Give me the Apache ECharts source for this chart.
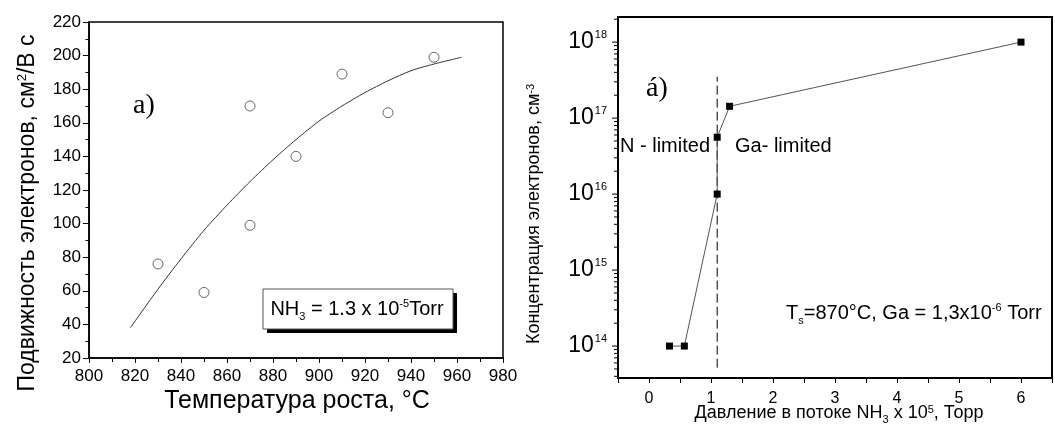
<!DOCTYPE html>
<html>
<head>
<meta charset="utf-8">
<script src="https://cdn.jsdelivr.net/npm/echarts@6/dist/echarts.min.js"></script>
<style>
  html, body { margin: 0; padding: 0; background: #fff; }
  #c { width: 1055px; height: 430px; }
</style>
</head>
<body>
<div id="c"></div>
<script>
// (a) Electron mobility vs growth temperature, NH3 = 1.3e-5 Torr
const growthTemp = [830, 850, 870, 870, 890, 910, 930, 950];
const mobility   = [76, 59, 170, 99, 140, 189, 166, 199];
// trend curve through the mobility data
const trendTemp     = [818, 830, 840, 850, 860, 870, 880, 890, 900, 910, 920, 930, 940, 950, 962];
const trendMobility = [38, 61, 79, 96, 111, 125, 138, 150, 161, 170, 178, 185, 191, 195, 199];

// (b) Electron concentration vs NH3 flux pressure (x 1e-5 Torr)
const nh3Pressure   = [0.33, 0.57, 1.1, 1.1, 1.3, 6.0];
const concentration = [1e14, 1e14, 1e16, 5.6e16, 1.43e17, 1e18];
// N-limited / Ga-limited boundary
const boundaryPressure = 1.1;
const boundarySpan     = [5.2e13, 3.5e17];

// axis ranges
const tempRange = [800, 980];
const mobRange  = [20, 220];
const pRange    = [-0.5, 6.5];
const concRange = [3.8e13, 2.14e18];
const decades   = [14, 15, 16, 17, 18];

const FONT = '"Liberation Sans", Arial, sans-serif';
const SERIF = '"Liberation Serif", "Times New Roman", serif';

// log-axis tick marks (majors at decades, minors at 2..9 x decade)
const logTicks = [];
for (let e = 13; e <= 18; e++) {
  for (let k = 1; k <= 9; k++) {
    const v = k * Math.pow(10, e);
    if (v >= concRange[0] && v <= concRange[1]) logTicks.push([pRange[0], v, k === 1 ? 6 : 4]);
  }
}

const chart = echarts.init(document.getElementById('c'));

function richStyle(size, subSize) {
  return {
    n:   { fontFamily: FONT, fontSize: size, lineHeight: Math.round(size * 1.35), color: '#000' },
    sub: { fontFamily: FONT, fontSize: subSize, verticalAlign: 'bottom', color: '#000' },
    sup: { fontFamily: FONT, fontSize: subSize, verticalAlign: 'top', padding: [Math.round(size * 0.15), 0, 0, 0], color: '#000' }
  };
}

const option = {
  animation: false,
  backgroundColor: '#fff',
  grid: [
    { left: 89, top: 22, width: 414, height: 336, show: true, borderColor: '#000', borderWidth: 1.5, backgroundColor: 'transparent' },
    { left: 618, top: 17, width: 442, height: 361, show: true, borderColor: '#000', borderWidth: 2, backgroundColor: 'transparent' }
  ],
  xAxis: [
    {
      gridIndex: 0, type: 'value', min: tempRange[0], max: tempRange[1], interval: 20,
      axisLine: { onZero: false, lineStyle: { color: '#000', width: 1.5 } },
      axisTick: { show: true, length: 5, lineStyle: { color: '#000' } },
      minorTick: { show: true, splitNumber: 2, length: 4, lineStyle: { color: '#000' } },
      splitLine: { show: false },
      axisLabel: { color: '#000', fontFamily: FONT, fontSize: 17, margin: 10 }
    },
    {
      gridIndex: 1, type: 'value', min: pRange[0], max: pRange[1], interval: 0.5,
      axisLine: { onZero: false, lineStyle: { color: '#000', width: 1.5 } },
      axisTick: { show: true, length: 5, lineStyle: { color: '#000' } },
      splitLine: { show: false },
      axisLabel: {
        color: '#000', fontFamily: FONT, fontSize: 16, margin: 13,
        formatter: v => (Math.abs(v - Math.round(v)) < 1e-9 ? String(Math.round(v)) : '')
      }
    }
  ],
  yAxis: [
    {
      gridIndex: 0, type: 'value', min: mobRange[0], max: mobRange[1], interval: 20,
      axisLine: { show: true, onZero: false, lineStyle: { color: '#000', width: 1.5 } },
      axisTick: { show: true, length: 6, lineStyle: { color: '#000' } },
      minorTick: { show: true, splitNumber: 2, length: 3.5, lineStyle: { color: '#000' } },
      splitLine: { show: false },
      axisLabel: { color: '#000', fontFamily: FONT, fontSize: 17, margin: 8 }
    },
    {
      gridIndex: 1, type: 'log', logBase: 10, min: concRange[0], max: concRange[1],
      axisLine: { show: true, onZero: false, lineStyle: { color: '#000', width: 1.5 } },
      axisTick: { show: false },
      splitLine: { show: false },
      axisLabel: {
        margin: 11,
        formatter: v => {
          const l = Math.log10(v);
          const e = Math.round(l);
          if (Math.abs(l - e) > 1e-6 || decades.indexOf(e) < 0) return '';
          return '{b|10}{s|' + e + '}';
        },
        rich: {
          b: { fontFamily: FONT, fontSize: 23, lineHeight: 26, color: '#000' },
          s: { fontFamily: FONT, fontSize: 11, verticalAlign: 'top', padding: [0, 0, 0, 1], color: '#000' }
        }
      }
    }
  ],
  series: [
    {
      type: 'line', xAxisIndex: 0, yAxisIndex: 0,
      data: trendTemp.map((t, i) => [t, trendMobility[i]]),
      smooth: 0.25, showSymbol: false, silent: true,
      lineStyle: { color: '#333', width: 1 }
    },
    {
      type: 'scatter', xAxisIndex: 0, yAxisIndex: 0,
      data: growthTemp.map((t, i) => [t, mobility[i]]),
      symbol: 'circle', symbolSize: 10,
      itemStyle: { color: '#fff', borderColor: '#444', borderWidth: 1 }
    },
    {
      type: 'line', xAxisIndex: 1, yAxisIndex: 1,
      data: [[boundaryPressure, boundarySpan[0]], [boundaryPressure, boundarySpan[1]]],
      showSymbol: false, silent: true,
      lineStyle: { color: '#000', width: 1, type: [9, 4] }
    },
    {
      type: 'line', xAxisIndex: 1, yAxisIndex: 1,
      data: nh3Pressure.map((p, i) => [p, concentration[i]]),
      symbol: 'rect', symbolSize: 7, showSymbol: true,
      lineStyle: { color: '#555', width: 1 },
      itemStyle: { color: '#000' }
    },
    {
      type: 'custom', xAxisIndex: 1, yAxisIndex: 1, silent: true, clip: false,
      data: logTicks,
      renderItem: (params, api) => {
        const p = api.coord([api.value(0), api.value(1)]);
        const len = api.value(2);
        return {
          type: 'line',
          shape: { x1: p[0] - len, y1: p[1], x2: p[0], y2: p[1] },
          style: { stroke: '#000', lineWidth: 1 }
        };
      }
    }
  ],
  graphic: [
    // axis titles, panel (a)
    {
      type: 'text', x: 28, y: 213, rotation: Math.PI / 2,
      style: {
        text: '{n|Подвижность электронов, см}{sup|2}{n|/В с}',
        align: 'center', verticalAlign: 'middle', rich: richStyle(23, 13)
      }
    },
    {
      type: 'text', x: 297, y: 401,
      style: {
        text: 'Температура роста, °C',
        align: 'center', verticalAlign: 'middle',
        fontFamily: FONT, fontSize: 25, fill: '#000'
      }
    },
    {
      type: 'text', x: 133, y: 106,
      style: { text: 'a)', align: 'left', verticalAlign: 'middle', fontFamily: SERIF, fontSize: 28, fill: '#000' }
    },
    // NH3 legend box with drop shadow
    { type: 'rect', shape: { x: 267, y: 293, width: 190, height: 40 }, style: { fill: '#000' } },
    { type: 'rect', shape: { x: 263, y: 289, width: 190, height: 40 }, style: { fill: '#fff', stroke: '#555', lineWidth: 1 } },
    {
      type: 'text', x: 357, y: 309,
      style: {
        text: '{n|NH}{sub|3}{n| = 1.3 x 10}{sup|-5}{n|Torr}',
        align: 'center', verticalAlign: 'middle', rich: richStyle(20, 11)
      }
    },
    // axis titles, panel (б)
    {
      type: 'text', x: 534, y: 214, rotation: Math.PI / 2,
      style: {
        text: '{n|Концентрация электронов, см}{sup|-3}',
        align: 'center', verticalAlign: 'middle', rich: richStyle(18, 11)
      }
    },
    {
      type: 'text', x: 839, y: 413,
      style: {
        text: '{n|Давление в потоке NH}{sub|3}{n| x 10}{sup|5}{n|, Торр}',
        align: 'center', verticalAlign: 'middle', rich: richStyle(18, 11)
      }
    },
    {
      type: 'text', x: 646, y: 89,
      style: { text: 'á)', align: 'left', verticalAlign: 'middle', fontFamily: SERIF, fontSize: 28, fill: '#000' }
    },
    {
      type: 'text', x: 620, y: 146,
      style: { text: 'N - limited', align: 'left', verticalAlign: 'middle', fontFamily: FONT, fontSize: 20, fill: '#000' }
    },
    {
      type: 'text', x: 735, y: 146,
      style: { text: 'Ga- limited', align: 'left', verticalAlign: 'middle', fontFamily: FONT, fontSize: 20, fill: '#000' }
    },
    {
      type: 'text', x: 786, y: 313,
      style: {
        text: '{n|T}{sub|s}{n|=870°C, Ga = 1,3x10}{sup|-6}{n| Torr}',
        align: 'left', verticalAlign: 'middle', rich: richStyle(20, 11)
      }
    }
  ]
};

chart.setOption(option);
</script>
</body>
</html>
